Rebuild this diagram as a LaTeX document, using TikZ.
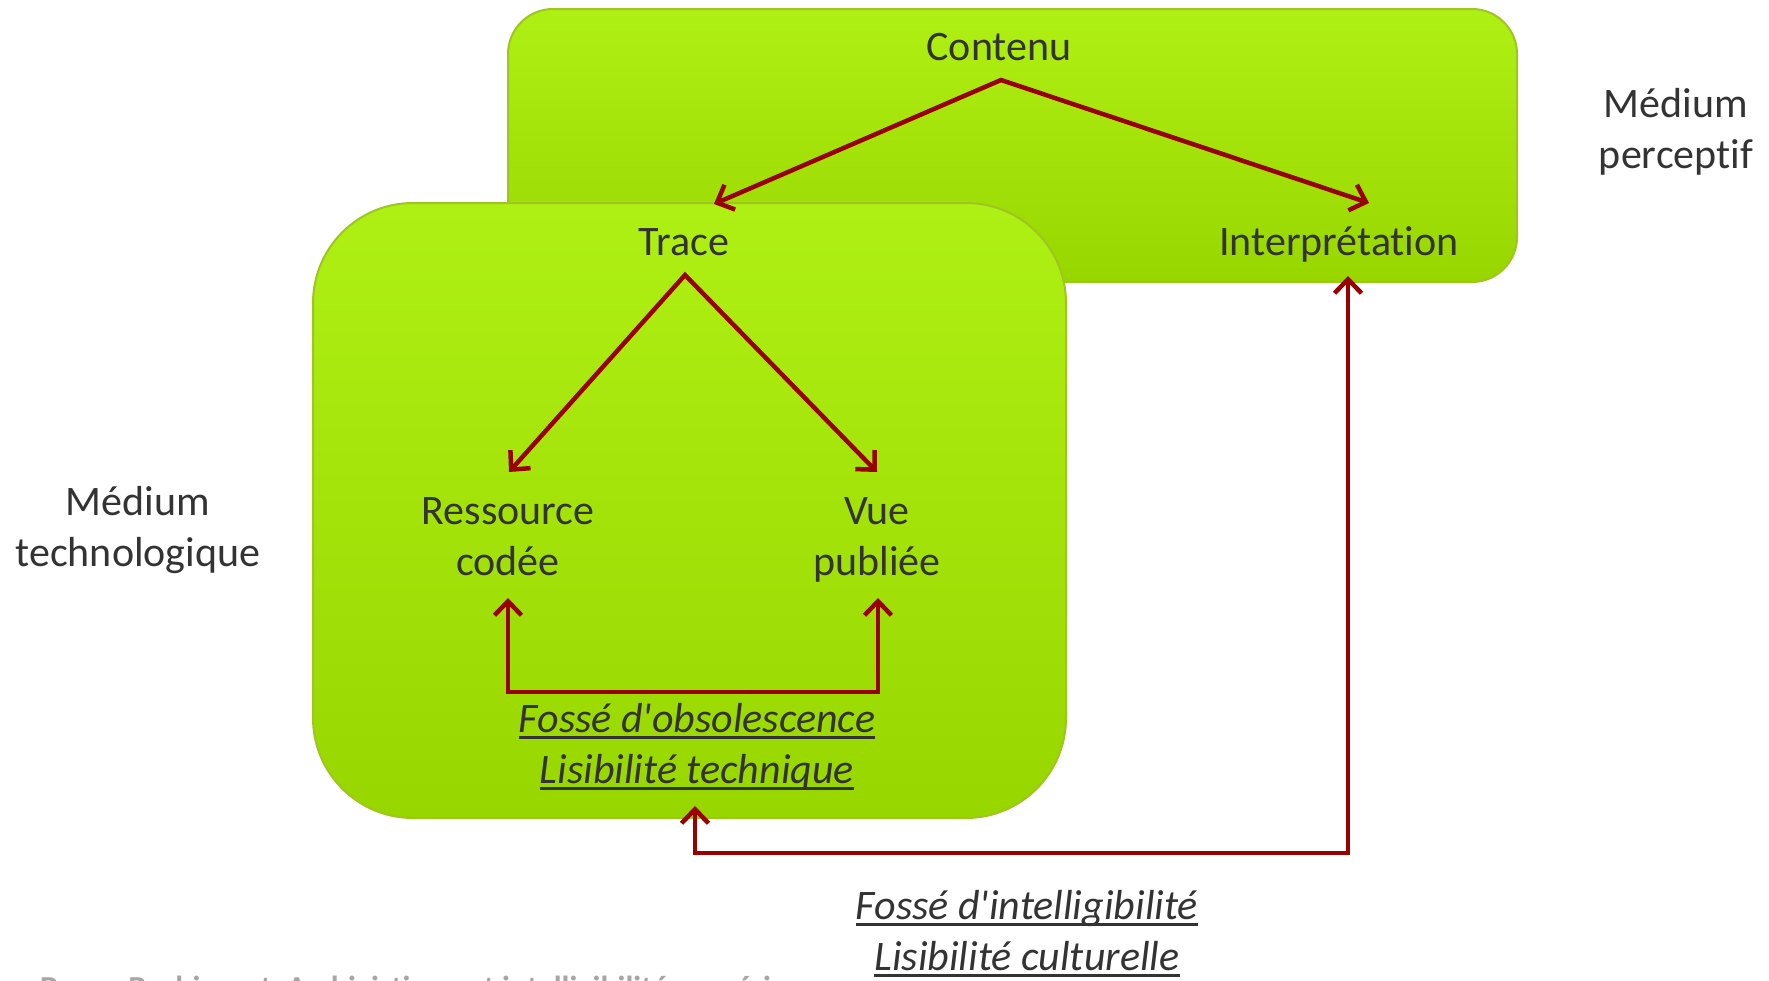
\documentclass[tikz,border=0pt]{standalone}
\usepackage{fontspec}
\setmainfont{Carlito}[Ligatures={TeXOff,NoCommon}]
\usetikzlibrary{arrows.meta}
\definecolor{txt}{HTML}{333333}
\definecolor{arrred}{HTML}{990000}
\definecolor{gtop}{HTML}{AFF014}
\definecolor{gbot}{HTML}{98D600}
\definecolor{gedge}{HTML}{9EC61E}
\definecolor{footc}{HTML}{A6A6A6}
\newcommand{\ulx}[1]{\leavevmode\setbox0=\hbox{#1}\rlap{\rule[-6.5pt]{\wd0}{2.4pt}}\box0}
\begin{document}
\begin{tikzpicture}[x=1pt,y=-1pt,
  lbl/.style={text=txt, font=\fontsize{42}{51}\selectfont, align=center, inner sep=0pt, anchor=base},
  ital/.style={lbl, font=\fontsize{42}{51}\selectfont\itshape},
  greenbox/.style={top color=gtop, bottom color=gbot, draw=gedge, line width=2pt},
  arr/.style={draw=arrred, line width=4.5pt, line join=miter,
    arrows={Straight Barb[length=14pt,width=27pt]-Straight Barb[length=14pt,width=27pt]}}
]
\useasboundingbox (0,0) rectangle (1769,980);
\fill[white] (0,0) rectangle (1769,980);
\clip (0,0) rectangle (1769,980);

% boxes
\path[greenbox, rounded corners=45pt] (508,9) rectangle (1517,282);
\path[greenbox, rounded corners=100pt] (313,203) rectangle (1066,818);

% labels (base anchor = baseline of last line)
\node[lbl] (contenu) at (999,60) {Contenu};
\node[lbl] (trace) at (684,255) {Trace};
\node[lbl] (interp) at (1339,255) {Interprétation};
\node[lbl] (ress) at (508,575) {Ressource\\codée};
\node[lbl] (vue) at (877,575) {Vue\\publiée};
\node[ital] (obs) at (697,783) {\ulx{Fossé d'obsolescence}\\\ulx{Lisibilité technique}};
\node[ital] (intel) at (1027,970) {\ulx{Fossé d'intelligibilité}\\\ulx{Lisibilité culturelle}};
\node[lbl] (mperc) at (1676,168) {Médium\\perceptif};
\node[lbl] (mtech) at (138,566) {Médium\\technologique};
\node[anchor=base west, inner sep=0pt, text=footc, font=\bfseries\fontsize{32}{38}\selectfont] (foot) at (40,998) {Bruno Bachimont, Archivistique et intelligibilité numérique};

% connector points
\coordinate (ca) at (1001,80);
\coordinate (ct) at (714,204);
\coordinate (ci) at (1369,203);
\coordinate (ta) at (685,275);
\coordinate (tr) at (509,472);
\coordinate (tv) at (877,472);
\coordinate (rb) at (508,598);
\coordinate (vb) at (878,598);
\coordinate (rbl) at (508,692);
\coordinate (rbr) at (878,692);
\coordinate (ob) at (695,806);
\coordinate (obl) at (695,853);
\coordinate (obr) at (1348,853);
\coordinate (ib) at (1348,276);

% connectors
\draw[arr] (ct) -- (ca) -- (ci);
\draw[arr] (tr) -- (ta) -- (tv);
\draw[arr] (rb) -- (rbl) -- (rbr) -- (vb);
\draw[arr] (ob) -- (obl) -- (obr) -- (ib);
\end{tikzpicture}
\end{document}
